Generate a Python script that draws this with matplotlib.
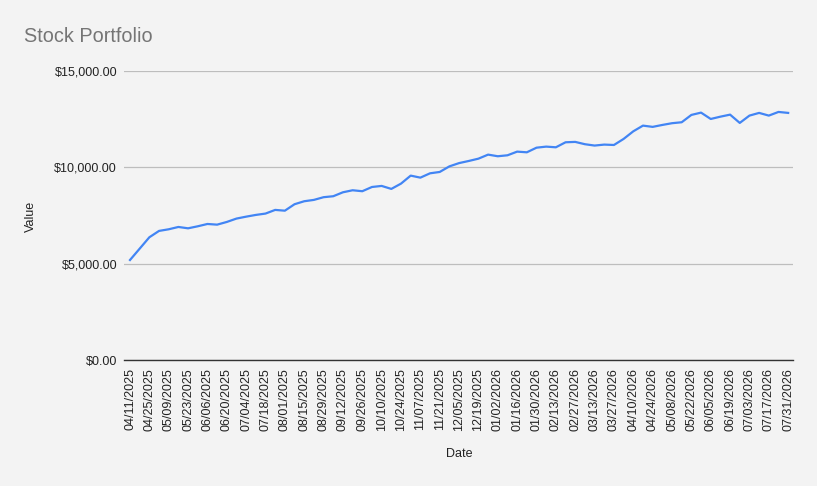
import matplotlib
matplotlib.use("Agg")
import matplotlib.pyplot as plt
import pandas as pd
from matplotlib.ticker import FuncFormatter

plt.rcParams['font.family'] = ['Liberation Sans', 'DejaVu Sans']

# weekly dates, every Friday from 04/11/2025 to 07/31/2026
dates = pd.date_range("2025-04-11", "2026-07-31", freq="7D")
date_labels = [d.strftime("%m/%d/%Y") for d in dates]

# portfolio value
values = [
    5190, 5780, 6370, 6700, 6785, 6905, 6835, 6940, 7060, 7025,
    7165, 7340, 7440, 7530, 7600, 7790, 7750, 8085, 8240, 8310,
    8450, 8500, 8705, 8810, 8760, 8980, 9035, 8880, 9155, 9570,
    9465, 9690, 9760, 10050, 10220, 10330, 10450, 10660, 10575, 10625,
    10815, 10780, 11020, 11075, 11040, 11300, 11320, 11200, 11130, 11180,
    11160, 11475, 11870, 12165, 12100, 12200, 12290, 12340, 12720, 12840,
    12510, 12630, 12735, 12305, 12685, 12825, 12685, 12875, 12825,
]

y_ticks = [0, 5000, 10000, 15000]

bg = "#f3f3f3"
fig = plt.figure(figsize=(8.17, 4.86), dpi=100, facecolor=bg)
ax = fig.add_axes([124 / 817, 1 - 360 / 486, (793 - 124) / 817, (360 - 71) / 486])
ax.set_facecolor(bg)

x = list(range(len(values)))
ax.plot(x, values, color="#4285f4", linewidth=1.6, solid_joinstyle="round")

ax.set_ylim(0, 15000)
ax.set_xlim(-0.62, len(values) - 1 + 0.5)
ax.set_yticks(y_ticks)
ax.yaxis.set_major_formatter(FuncFormatter(lambda v, p: "${:,.2f}".format(v)))
ax.grid(axis="y", color="#bdbdbd", linewidth=0.9)
ax.set_axisbelow(True)

ax.set_xticks(x[::2])
ax.set_xticklabels(date_labels[::2], rotation=90, fontsize=9, color="#222222")
ax.tick_params(axis="x", length=0, pad=6)
ax.tick_params(axis="y", length=0, pad=5, labelsize=9, labelcolor="#222222")

for s in ["top", "right", "left"]:
    ax.spines[s].set_visible(False)
ax.spines["bottom"].set_color("#333333")
ax.spines["bottom"].set_linewidth(1.0)

fig.text(24 / 817, 1 - 36 / 486, "Stock Portfolio", fontsize=14.3, color="#757575",
         va="center", ha="left")
fig.text(31 / 817, 1 - 216 / 486, "Value", rotation=90, fontsize=9,
         color="#222222", va="center", ha="center")
fig.text(459 / 817, 1 - 454 / 486, "Date", fontsize=9, color="#222222",
         va="center", ha="center")

fig.savefig("out.png", dpi=100, facecolor=bg)
